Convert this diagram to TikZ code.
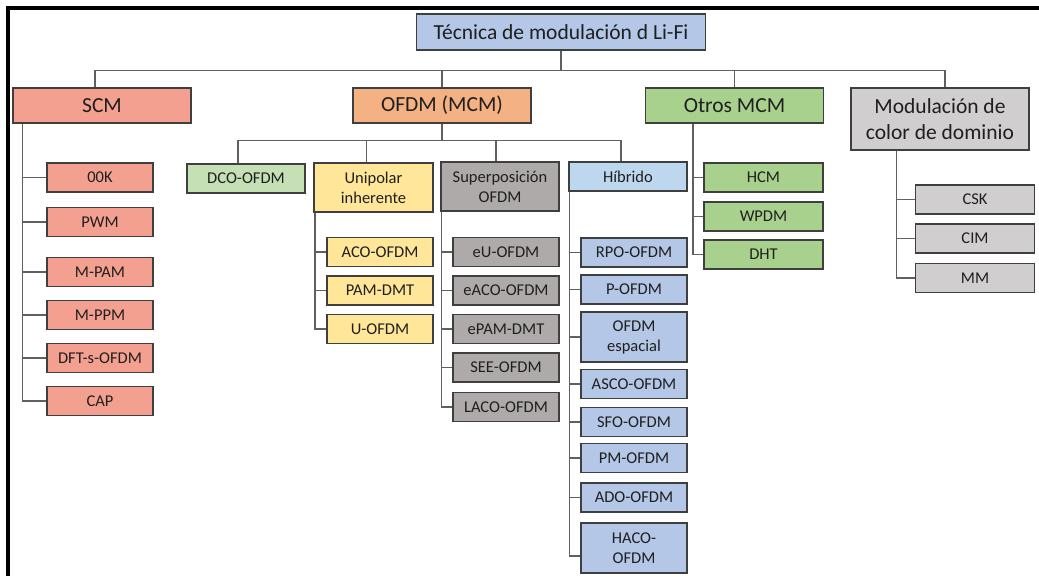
\documentclass[tikz,border=0pt]{standalone}
\usepackage{fontspec}
\setmainfont{Carlito}

\definecolor{lifiblue}{HTML}{B4C7E7}
\definecolor{scmred}{HTML}{F4A090}
\definecolor{ofdmorange}{HTML}{F4B183}
\definecolor{mcmgreen}{HTML}{A9D18E}
\definecolor{dcogreen}{HTML}{C5E0B4}
\definecolor{unipyellow}{HTML}{FFE699}
\definecolor{supgray}{HTML}{AEAAAA}
\definecolor{hibblue}{HTML}{BDD7EE}
\definecolor{cologray}{HTML}{D0CECE}
\definecolor{boxline}{HTML}{3F3F3F}
\definecolor{linkgray}{HTML}{606060}
\definecolor{textdark}{HTML}{1F1F1F}

\tikzset{
  box/.style={draw=boxline, line width=1.1pt, align=center, inner sep=2pt, text=textdark},
  big/.style={box, minimum width=178pt, minimum height=35pt, font=\fontsize{21.5}{26}\selectfont},
  small/.style={box, minimum width=118pt, minimum height=29pt, font=\fontsize{16.5}{20}\selectfont},
  leaf/.style={small, minimum width=106pt},
  link/.style={draw=linkgray, line width=1.2pt},
  bus/.style={to path={-| (\tikztotarget)}},
  rail/.style={to path={|- (\tikztotarget)}},
}

\begin{document}
\begin{tikzpicture}[x=1pt, y=-1pt]
  \useasboundingbox (0,0) rectangle (1039,576);
  \draw[line width=3.5pt] (8,576) -- (8,8) -- (1039,8);

  % root and first level
  \node[big, fill=lifiblue, minimum width=289pt, minimum height=36pt] (lifi) at (561,32) {Técnica de modulación d Li-Fi};
  \node[big, fill=scmred] (scm) at (102,105.5) {SCM};
  \node[big, fill=ofdmorange] (ofdm) at (442,105.5) {OFDM (MCM)};
  \node[big, fill=mcmgreen] (otros) at (734.5,105.5) {Otros MCM};
  \node[big, fill=cologray, minimum height=62pt] (color) at (940,119) {Modulación de\\color de dominio};

  % OFDM families
  \node[small, fill=dcogreen] (dco) at (246,178.5) {DCO-OFDM};
  \node[small, fill=unipyellow, minimum width=119pt, minimum height=49pt] (unip) at (373.5,187.5) {Unipolar\\inherente};
  \node[small, fill=supgray, minimum height=49pt] (super) at (500,186.5) {Superposición\\OFDM};
  \node[small, fill=hibblue] (hib) at (628,176.5) {Híbrido};

  % SCM
  \node[leaf, fill=scmred] (ook) at (100,177.5) {00K};
  \node[leaf, fill=scmred] (pwm) at (100,222) {PWM};
  \node[leaf, fill=scmred] (mpam) at (100,272) {M-PAM};
  \node[leaf, fill=scmred] (mppm) at (100,315) {M-PPM};
  \node[leaf, fill=scmred] (dft) at (100,358) {DFT-s-OFDM};
  \node[leaf, fill=scmred] (cap) at (100,401) {CAP};

  % unipolar
  \node[leaf, fill=unipyellow] (aco) at (380,252) {ACO-OFDM};
  \node[leaf, fill=unipyellow] (pamdmt) at (380,290.5) {PAM-DMT};
  \node[leaf, fill=unipyellow] (uofdm) at (380,329) {U-OFDM};

  % superposicion
  \node[leaf, fill=supgray] (eu) at (506,252) {eU-OFDM};
  \node[leaf, fill=supgray] (eaco) at (506,290.5) {eACO-OFDM};
  \node[leaf, fill=supgray] (epam) at (506,329) {ePAM-DMT};
  \node[leaf, fill=supgray] (see) at (506,367.5) {SEE-OFDM};
  \node[leaf, fill=supgray] (laco) at (506,407) {LACO-OFDM};

  % hibrido
  \node[leaf, fill=lifiblue] (rpo) at (634,252.5) {RPO-OFDM};
  \node[leaf, fill=lifiblue] (pofdm) at (634,289.5) {P-OFDM};
  \node[leaf, fill=lifiblue, minimum height=50pt] (espacial) at (634,337) {OFDM\\espacial};
  \node[leaf, fill=lifiblue] (asco) at (634,384) {ASCO-OFDM};
  \node[leaf, fill=lifiblue] (sfo) at (634,422) {SFO-OFDM};
  \node[leaf, fill=lifiblue] (pm) at (634,458) {PM-OFDM};
  \node[leaf, fill=lifiblue] (ado) at (634,497.5) {ADO-OFDM};
  \node[leaf, fill=lifiblue, minimum height=50pt] (haco) at (634,548) {HACO-\\OFDM};

  % otros MCM
  \node[small, fill=mcmgreen, minimum width=119pt] (hcm) at (763.5,177.5) {HCM};
  \node[small, fill=mcmgreen, minimum width=119pt] (wpdm) at (763.5,216.5) {WPDM};
  \node[small, fill=mcmgreen, minimum width=119pt] (dht) at (763.5,254.5) {DHT};

  % color
  \node[small, fill=cologray, minimum width=119pt] (csk) at (975,199.5) {CSK};
  \node[small, fill=cologray, minimum width=119pt] (cim) at (975,238.5) {CIM};
  \node[small, fill=cologray, minimum width=119pt] (mm) at (975,278) {MM};

  % buses
  \draw[link] (lifi.south) -- ++(0,20) coordinate (top);
  \draw[link] (top) edge[bus] ([xshift=-7pt]scm.north) edge[bus] (ofdm.north)
    edge[bus] (otros.north) edge[bus] ([xshift=5pt]color.north);
  \draw[link] (ofdm.south) -- ++(0,17) coordinate (mid);
  \draw[link] (mid) edge[bus] ([xshift=-8pt]dco.north) edge[bus] ([xshift=-7pt]unip.north)
    edge[bus] ([xshift=-4pt]super.north) edge[bus] ([xshift=-7pt]hib.north);

  % rails
  \draw[link] ([xshift=10pt]scm.south west) edge[rail] (ook.west) edge[rail] (pwm.west)
    edge[rail] (mpam.west) edge[rail] (mppm.west) edge[rail] (dft.west) edge[rail] (cap.west);
  \draw[link] ([xshift=1.5pt]unip.south west) edge[rail] (aco.west)
    edge[rail] (pamdmt.west) edge[rail] (uofdm.west);
  \draw[link] ([xshift=1pt]super.south west) edge[rail] (eu.west) edge[rail] (eaco.west)
    edge[rail] (epam.west) edge[rail] (see.west) edge[rail] (laco.west);
  \draw[link] ([xshift=1pt]hib.south west) edge[rail] (rpo.west) edge[rail] (pofdm.west)
    edge[rail] (espacial.west) edge[rail] (asco.west) edge[rail] (sfo.west)
    edge[rail] (pm.west) edge[rail] (ado.west) edge[rail] ([yshift=-8pt]haco.west);
  \draw[link] ([xshift=48pt]otros.south west) edge[rail] (hcm.west)
    edge[rail] (wpdm.west) edge[rail] (dht.west);
  \draw[link] ([xshift=46pt]color.south west) edge[rail] (csk.west)
    edge[rail] (cim.west) edge[rail] (mm.west);
\end{tikzpicture}
\end{document}
